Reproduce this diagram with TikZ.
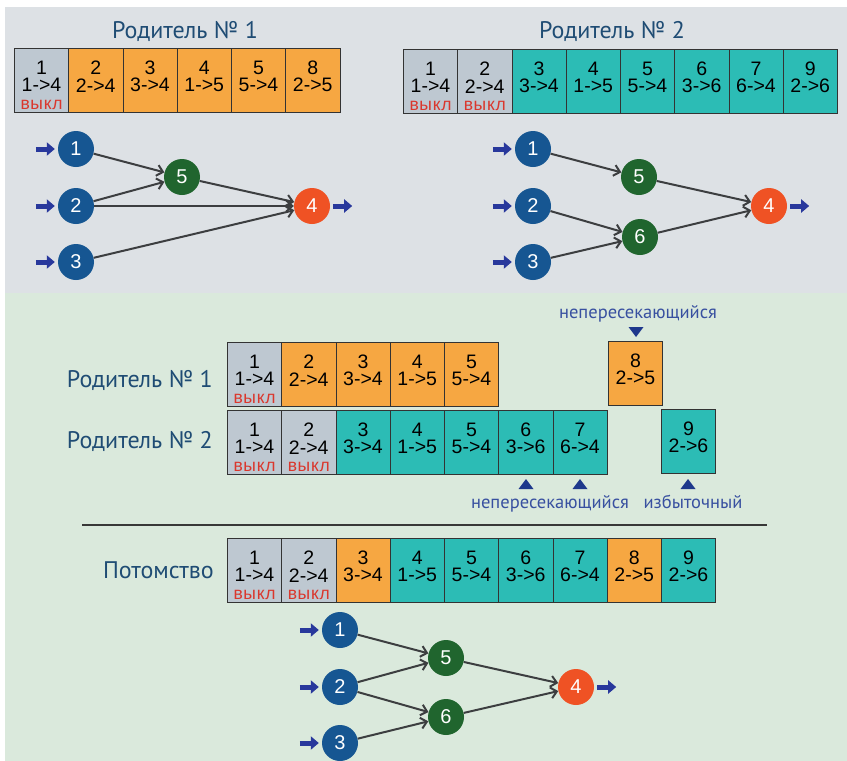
\documentclass[tikz,border=0pt]{standalone}
\usepackage{fontspec}
\usepackage{xcolor}
\usepackage{tikz}
\usetikzlibrary{arrows.meta,calc,positioning}
\setmainfont{PT Sans}
\newfontfamily\cellfont{Liberation Sans}
\newfontfamily\offfont[LetterSpace=4]{Liberation Sans}
\definecolor{bgtop}{RGB}{221,225,229}
\definecolor{bgbottom}{RGB}{218,233,220}
\definecolor{genegray}{RGB}{190,200,209}
\definecolor{geneorange}{RGB}{246,167,66}
\definecolor{geneteal}{RGB}{44,188,181}
\definecolor{offred}{RGB}{218,55,45}
\definecolor{nodeblue}{RGB}{22,86,146}
\definecolor{nodegreen}{RGB}{32,101,46}
\definecolor{nodered}{RGB}{239,82,36}
\definecolor{feedblue}{RGB}{40,56,156}
\definecolor{linkgray}{RGB}{60,62,64}
\definecolor{titleblue}{RGB}{31,76,116}
\definecolor{remarkblue}{RGB}{56,80,160}
\definecolor{tipblue}{RGB}{30,56,140}
\newcommand{\CellW}{54.25}
\tikzset{
  cell/.style={draw=black!80, line width=0.8pt, minimum width=\CellW pt, minimum height=63.5pt, inner sep=0pt, anchor=north west},
  offgene/.style={fill=genegray},     % disabled gene
  geneA/.style={fill=geneorange},     % gene of parent 1
  geneB/.style={fill=geneteal},       % gene of parent 2
  celltext/.style={align=center, inner sep=0pt, font=\cellfont\fontsize{19.5}{17.5}\selectfont},
  offtext/.style={inner sep=0pt, text=offred, font=\offfont\fontsize{17.5}{18}\selectfont},
  headline/.style={text=titleblue, inner sep=0pt, font=\fontsize{24}{26}\selectfont},
  remark/.style={text=remarkblue, inner sep=0pt, font=\fontsize{18.5}{20}\selectfont},
  neuron/.style={circle, minimum size=36pt, inner sep=0pt, text=white, font=\cellfont\fontsize{20}{20}\selectfont},
  inN/.style={neuron, fill=nodeblue},
  hidN/.style={neuron, fill=nodegreen},
  outN/.style={neuron, fill=nodered},
  wire/.style={-{Straight Barb[length=6pt,width=11pt]}, line width=2pt, draw=linkgray},
  feed/.style={-{Triangle[length=8pt,width=13pt]}, line width=5pt, draw=feedblue},
  divider/.style={line width=2pt, draw=black!78}
}
\newcommand{\Gene}[6]{% name, left x, top y, style, innovation no., connection
  \node[cell,#4] (#1) at (#2,#3) {};
  \node[celltext] (#1-t) at ([yshift=-28.5pt]#1.north) {#5\\#6};
}
\newcommand{\Off}[1]{%
  \node[offtext] (#1-off) at ([yshift=7pt]#1.south) {выкл};
}
\newcommand{\Net}[3]{% prefix, position of input 1
  \begin{scope}[shift={(#2,#3)}]
    \node[inN] (#1-1) at (0,0) {1};
    \node[inN] (#1-2) at (0,57) {2};
    \node[inN] (#1-3) at (0,113) {3};
    \node[hidN] (#1-5) at (106,28) {5};
    \node[outN] (#1-4) at (236,57) {4};
  \end{scope}
  \foreach \k in {1,2,3}{
    \draw[feed, shorten >=3pt] ([xshift=-22pt]#1-\k.west) -- (#1-\k);
  }
  \draw[feed, shorten <=3pt] (#1-4) -- ([xshift=22pt]#1-4.east);
}
\newcommand{\TipDown}[2]{\fill[tipblue] (#1-7.5,#2-5) -- (#1+7.5,#2-5) -- (#1,#2+5) -- cycle;}
\newcommand{\TipUp}[2]{\fill[tipblue] (#1-7.5,#2+5) -- (#1+7.5,#2+5) -- (#1,#2-5) -- cycle;}

\begin{document}
\begin{tikzpicture}[x=1pt,y=-1pt]
  \fill[white] (0,0) rectangle (847,761);
  \fill[bgtop] (5,7) rectangle (847,293);
  \fill[bgbottom] (5,293) rectangle (847,761);
  \useasboundingbox (0,0) rectangle (847,761);
  % Parent 1 (top left)
  \node[headline, anchor=base] (t1) at (185,38) {Родитель № 1};
  \foreach \n/\c/\s [count=\i from 0] in {1/1->4/offgene,2/2->4/geneA,3/3->4/geneA,4/1->5/geneA,5/5->4/geneA,8/2->5/geneA}{
    \Gene{pa\n}{14+\CellW*\i}{48}{\s}{\n}{\c}
  }
  \Off{pa1}
  \Net{a}{76}{149}
  \foreach \s/\t in {1/5,2/5,2/4,3/4,5/4}
    \draw[wire] (a-\s) -- (a-\t);
  % Parent 2 (top right)
  \node[headline, anchor=base] (t2) at (612,38) {Родитель № 2};
  \foreach \n/\c/\s [count=\i from 0] in {1/1->4/offgene,2/2->4/offgene,3/3->4/geneB,4/1->5/geneB,5/5->4/geneB,6/3->6/geneB,7/6->4/geneB,9/2->6/geneB}{
    \Gene{pb\n}{403+\CellW*\i}{49}{\s}{\n}{\c}
  }
  \Off{pb1}\Off{pb2}
  \Net{b}{533}{149}
  \node[hidN] (b-6) at (640,237) {6};
  \foreach \s/\t in {1/5,2/6,3/6,5/4,6/4}
    \draw[wire] (b-\s) -- (b-\t);
  % Aligned genomes
  \node[headline, anchor=base east] (m1) at (213,387) {Родитель № 1};
  \node[headline, anchor=base east] (m2) at (213,448) {Родитель № 2};
  \foreach \n/\c/\s [count=\i from 0] in {1/1->4/offgene,2/2->4/geneA,3/3->4/geneA,4/1->5/geneA,5/5->4/geneA}{
    \Gene{ma\n}{227+\CellW*\i}{342}{\s}{\n}{\c}
  }
  \Gene{ma8}{608}{341}{geneA}{8}{2->5}
  \foreach \n/\c/\s [count=\i from 0] in {1/1->4/offgene,2/2->4/offgene,3/3->4/geneB,4/1->5/geneB,5/5->4/geneB,6/3->6/geneB,7/6->4/geneB}{
    \Gene{mb\n}{227+\CellW*\i}{410}{\s}{\n}{\c}
  }
  \Gene{mb9}{661}{409}{geneB}{9}{2->6}
  \Off{ma1}\Off{mb1}\Off{mb2}
  % Disjoint and excess genes
  \node[remark, anchor=base] (dj1) at (638,318) {непересекающийся};
  \TipDown{636}{332}
  \TipUp{526}{484}
  \TipUp{580}{484}
  \TipUp{688}{484}
  \node[remark, anchor=base] (dj2) at (550,508) {непересекающийся};
  \node[remark, anchor=base] (ex) at (693,508) {избыточный};
  \draw[divider] (82,525) -- (767,525);
  % Offspring
  \node[headline, anchor=base east] (o) at (214,578) {Потомство};
  \foreach \n/\c/\s [count=\i from 0] in {1/1->4/offgene,2/2->4/offgene,3/3->4/geneA,4/1->5/geneB,5/5->4/geneB,6/3->6/geneB,7/6->4/geneB,8/2->5/geneA,9/2->6/geneB}{
    \Gene{o\n}{227+\CellW*\i}{538}{\s}{\n}{\c}
  }
  \Off{o1}\Off{o2}
  \Net{c}{340}{630}
  \node[hidN] (c-6) at (446,717) {6};
  \foreach \s/\t in {1/5,2/5,2/6,3/6,5/4,6/4}
    \draw[wire] (c-\s) -- (c-\t);
\end{tikzpicture}
\end{document}
